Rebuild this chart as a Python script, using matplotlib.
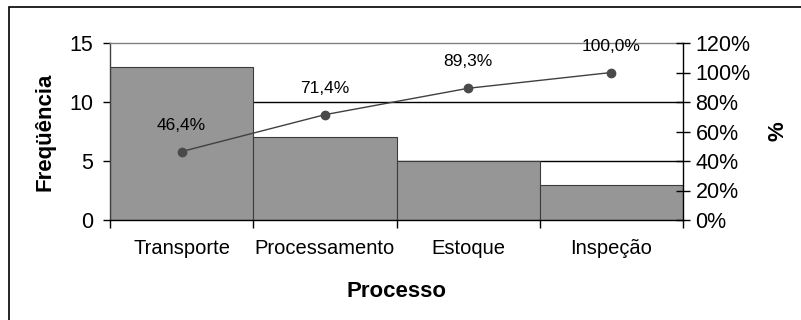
import matplotlib
matplotlib.use("Agg")
import matplotlib.pyplot as plt
from matplotlib.patches import Rectangle
from matplotlib.ticker import FixedLocator, PercentFormatter
import numpy as np

plt.rcParams['font.family'] = ['Liberation Sans', 'DejaVu Sans']

# dados do gráfico de Pareto
processos = ['Transporte', 'Processamento', 'Estoque', 'Inspeção']
frequencia = [13, 7, 5, 3]
acumulado = [0.464, 0.714, 0.893, 1.000]
rotulos = ['46,4%', '71,4%', '89,3%', '100,0%']

fig = plt.figure(figsize=(8.01, 3.2), dpi=100)
ax = fig.add_axes([110 / 801, 1 - 220 / 320, 573 / 801, 177 / 320])

x = np.arange(len(processos))
ax.bar(x, frequencia, width=1.0, color='#969696', edgecolor='#3c3c3c',
       linewidth=0.8, zorder=2)
ax.set_xlim(-0.5, len(processos) - 0.5)
ax.set_ylim(0, 15)
ax.set_yticks([0, 5, 10, 15])
for v in [5, 10]:
    ax.axhline(v, color='black', linewidth=1.0, zorder=1)

# marcas nas divisões e rótulos no centro das barras
ax.xaxis.set_major_locator(FixedLocator(np.arange(-0.5, len(processos), 1.0)))
ax.xaxis.set_minor_locator(FixedLocator(x))
ax.set_xticklabels([], minor=False)
ax.set_xticklabels(processos, minor=True, fontsize=14.5)
ax.tick_params(axis='x', which='major', direction='out', length=6, width=1,
               color='black')
ax.tick_params(axis='x', which='minor', length=0, pad=14)
ax.tick_params(axis='y', direction='out', length=5, width=1, labelsize=15.5,
               pad=7, color='black')

ax.spines['top'].set_color('#808080')
ax.spines['left'].set_color('#404040')
ax.spines['right'].set_visible(False)
for s in ax.spines.values():
    s.set_linewidth(1.0)

ax.set_ylabel('Freqüência', fontsize=16, fontweight='bold', labelpad=10)
ax.set_xlabel('Processo', fontsize=16, fontweight='bold', labelpad=16)

# eixo secundário com o percentual acumulado
ax2 = ax.twinx()
ax2.set_ylim(0, 1.2)
ax2.set_yticks(np.arange(0, 1.21, 0.2))
ax2.yaxis.set_major_formatter(PercentFormatter(1.0, decimals=0))
ax2.tick_params(axis='y', direction='inout', length=10, width=1, labelsize=15.5,
                pad=4, color='black')
for s in ['top', 'left', 'bottom']:
    ax2.spines[s].set_visible(False)
ax2.spines['right'].set_color('black')
ax2.spines['right'].set_linewidth(1.0)
ax2.set_ylabel('%', fontsize=16, fontweight='bold', labelpad=12)

ax2.plot(x, acumulado, color='#404040', linewidth=1.0, marker='o',
         markersize=6, markerfacecolor='#4a4a4a', markeredgecolor='#4a4a4a',
         zorder=3)
for xi, yi, txt in zip(x, acumulado, rotulos):
    ax2.annotate(txt, (xi, yi), xytext=(0, 19), textcoords='offset points',
                 ha='center', va='center', fontsize=12.5)

# moldura do gráfico
fig.patches.append(Rectangle((9 / 801, -0.1), 1.2, 1 - 7 / 320 + 0.1,
                             transform=fig.transFigure, fill=False,
                             edgecolor='black', linewidth=1.2))

fig.savefig('out.png', dpi=100)
